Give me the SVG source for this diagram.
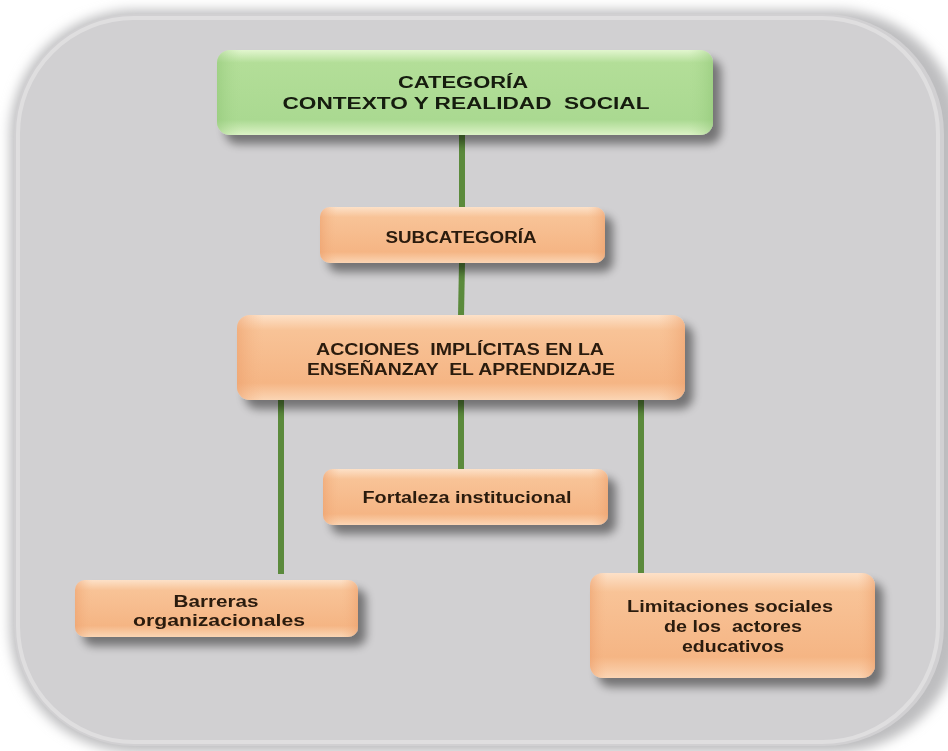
<svg xmlns="http://www.w3.org/2000/svg" width="948" height="751" viewBox="0 0 948 751">
  <style>
    .lbl { font-family: "Liberation Sans", Arial, sans-serif; font-weight: bold; text-anchor: middle; white-space: pre; }
    .g { fill: #141a10; font-size: 16px; }
    .o { fill: #2b1a0e; font-size: 16px; }
    .link { stroke: #5b8a3c; stroke-width: 6; fill: none; }
  </style>
  <defs>
    <filter id="panelShade" x="-5%" y="-5%" width="110%" height="110%">
      <feGaussianBlur stdDeviation="6"/>
    </filter>
    <filter id="boxShadow" x="-10%" y="-20%" width="125%" height="160%">
      <feGaussianBlur in="SourceAlpha" stdDeviation="5"/>
      <feOffset dx="8" dy="9"/>
      <feComponentTransfer><feFuncA type="linear" slope="0.45"/></feComponentTransfer>
      <feMerge><feMergeNode/><feMergeNode in="SourceGraphic"/></feMerge>
    </filter>
    <linearGradient id="orangeV" x1="0" y1="0" x2="0" y2="1">
      <stop offset="0" stop-color="#fde1c8"/>
      <stop offset="0.18" stop-color="#f8c397"/>
      <stop offset="0.8" stop-color="#f5b584"/>
      <stop offset="1" stop-color="#fbd5b4"/>
    </linearGradient>
    <linearGradient id="orangeH" x1="0" y1="0" x2="1" y2="0">
      <stop offset="0" stop-color="#ec9e6a" stop-opacity="0.55"/>
      <stop offset="0.06" stop-color="#f6b98a" stop-opacity="0"/>
      <stop offset="0.94" stop-color="#f6b98a" stop-opacity="0"/>
      <stop offset="1" stop-color="#ec9e6a" stop-opacity="0.55"/>
    </linearGradient>
    <linearGradient id="greenV" x1="0" y1="0" x2="0" y2="1">
      <stop offset="0" stop-color="#e2f6cf"/>
      <stop offset="0.15" stop-color="#b3de98"/>
      <stop offset="0.82" stop-color="#aad991"/>
      <stop offset="1" stop-color="#dcf3c6"/>
    </linearGradient>
    <linearGradient id="greenH" x1="0" y1="0" x2="1" y2="0">
      <stop offset="0" stop-color="#8ec474" stop-opacity="0.5"/>
      <stop offset="0.05" stop-color="#aedb94" stop-opacity="0"/>
      <stop offset="0.95" stop-color="#aedb94" stop-opacity="0"/>
      <stop offset="1" stop-color="#8ec474" stop-opacity="0.5"/>
    </linearGradient>
  </defs>

  <!-- page -->
  <rect x="0" y="0" width="948" height="751" fill="#ffffff"/>

  <!-- rounded gray panel with soft light rim -->
  <rect x="10" y="10" width="950" height="742" rx="125" ry="125" fill="#bdbdbf" filter="url(#panelShade)"/>
  <rect x="14" y="14" width="930" height="732" rx="120" ry="120" fill="#d1d0d2"/>
  <rect x="18" y="18" width="920" height="724" rx="116" ry="116" fill="none" stroke="#ffffff" stroke-opacity="0.3" stroke-width="4"/>

  <!-- connectors -->
  <g id="connectors">
    <line class="link" x1="462" y1="135" x2="462" y2="208"/>
    <line class="link" x1="462" y1="263" x2="461" y2="316"/>
    <line class="link" x1="281" y1="400" x2="281" y2="574"/>
    <line class="link" x1="461" y1="400" x2="461" y2="470"/>
    <line class="link" x1="641" y1="400" x2="641" y2="574"/>
  </g>

  <!-- category -->
  <g id="categoria" filter="url(#boxShadow)">
    <rect x="217" y="50" width="496" height="85" rx="13" fill="url(#greenV)"/>
    <rect x="217" y="50" width="496" height="85" rx="13" fill="url(#greenH)"/>
    <text class="lbl g" x="463" y="88" textLength="130" lengthAdjust="spacingAndGlyphs">CATEGORÍA</text>
    <text class="lbl g" x="466" y="109" textLength="367" lengthAdjust="spacingAndGlyphs">CONTEXTO Y REALIDAD  SOCIAL</text>
  </g>

  <!-- subcategory -->
  <g id="subcategoria" filter="url(#boxShadow)">
    <rect x="320" y="207" width="285" height="56" rx="10" fill="url(#orangeV)"/>
    <rect x="320" y="207" width="285" height="56" rx="10" fill="url(#orangeH)"/>
    <text class="lbl o" x="461" y="243" textLength="151" lengthAdjust="spacingAndGlyphs">SUBCATEGORÍA</text>
  </g>

  <!-- actions -->
  <g id="acciones" filter="url(#boxShadow)">
    <rect x="237" y="315" width="448" height="85" rx="13" fill="url(#orangeV)"/>
    <rect x="237" y="315" width="448" height="85" rx="13" fill="url(#orangeH)"/>
    <text class="lbl o" x="460" y="355" textLength="288" lengthAdjust="spacingAndGlyphs">ACCIONES  IMPLÍCITAS EN LA</text>
    <text class="lbl o" x="461" y="375" textLength="308" lengthAdjust="spacingAndGlyphs">ENSEÑANZAY  EL APRENDIZAJE</text>
  </g>

  <!-- fortaleza -->
  <g id="fortaleza" filter="url(#boxShadow)">
    <rect x="323" y="469" width="285" height="56" rx="10" fill="url(#orangeV)"/>
    <rect x="323" y="469" width="285" height="56" rx="10" fill="url(#orangeH)"/>
    <text class="lbl o" x="467" y="503" textLength="209" lengthAdjust="spacingAndGlyphs">Fortaleza institucional</text>
  </g>

  <!-- barreras -->
  <g id="barreras" filter="url(#boxShadow)">
    <rect x="75" y="580" width="283" height="57" rx="10" fill="url(#orangeV)"/>
    <rect x="75" y="580" width="283" height="57" rx="10" fill="url(#orangeH)"/>
    <text class="lbl o" x="216" y="607" textLength="85" lengthAdjust="spacingAndGlyphs">Barreras</text>
    <text class="lbl o" x="219" y="626" textLength="172" lengthAdjust="spacingAndGlyphs">organizacionales</text>
  </g>

  <!-- limitaciones -->
  <g id="limitaciones" filter="url(#boxShadow)">
    <rect x="590" y="573" width="285" height="105" rx="13" fill="url(#orangeV)"/>
    <rect x="590" y="573" width="285" height="105" rx="13" fill="url(#orangeH)"/>
    <text class="lbl o" x="730" y="612" textLength="206" lengthAdjust="spacingAndGlyphs">Limitaciones sociales</text>
    <text class="lbl o" x="733" y="632" textLength="138" lengthAdjust="spacingAndGlyphs">de los  actores</text>
    <text class="lbl o" x="733" y="652" textLength="102" lengthAdjust="spacingAndGlyphs">educativos</text>
  </g>
</svg>
